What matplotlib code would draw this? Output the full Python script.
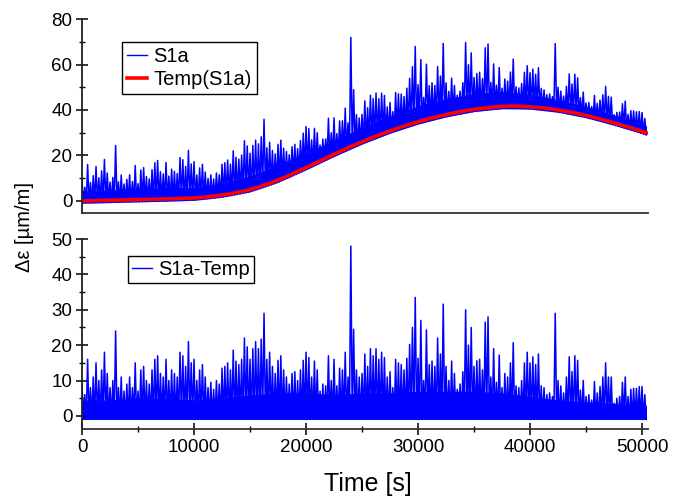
import numpy as np
import matplotlib
matplotlib.use("Agg")
import matplotlib.pyplot as plt

plt.rcParams['font.family'] = ['Liberation Sans', 'DejaVu Sans']

# Temperature compensation curve Temp(S1a)
temp_t = [0, 2500, 5000, 7500, 10000, 11000, 12000, 13000, 14000, 15000,
          16000, 17000, 18000, 19000, 20000, 21000, 22000, 23000, 24000, 25000,
          26000, 27000, 28000, 29000, 30000, 31000, 32000, 33000, 34000, 35000,
          36000, 37000, 38000, 39000, 40000, 41000, 42000, 43000, 44000, 45000,
          46000, 47000, 48000, 49000, 50000, 50400]
temp_v = [0, 0.3, 0.6, 0.9, 1.3, 1.7, 2.3, 3.0, 3.9, 5.0,
          6.5, 8.2, 10.2, 12.4, 14.7, 17.0, 19.4, 21.7, 23.9, 26.0,
          28.0, 29.9, 31.7, 33.3, 34.8, 36.2, 37.4, 38.5, 39.5, 40.3,
          40.9, 41.4, 41.7, 41.7, 41.4, 41.0, 40.4, 39.6, 38.7, 37.6,
          36.4, 35.0, 33.6, 32.2, 30.6, 30.0]

# S1a-Temp: highest spike in each 250 s bin (bottom panel)
bin_width = 250
resid_peak = [
    9, 6, 16, 8, 11, 15, 10, 13, 18, 12,
    8, 10, 24, 8, 11, 7, 9, 11, 8, 15,
    7, 13, 14, 10, 9, 13, 16, 17, 12, 11,
    16, 10, 13, 12, 11, 18, 17, 14, 21, 15,
    16, 10, 13, 14.5, 11, 8, 9.5, 7.5, 10, 9,
    13.5, 14, 15, 13, 18.6, 15.5, 14.5, 16, 22, 19.5,
    16, 19, 21, 19, 21.7, 29, 16, 18, 14, 12,
    15.7, 17, 13, 11, 9, 12, 12.5, 10, 13, 15.7,
    18, 16.5, 11, 15.5, 13, 7, 9, 8.5, 17, 10,
    16, 8.5, 13.5, 13, 18, 11, 48, 24.5, 13, 11,
    12, 17.5, 14, 19, 17, 19, 16, 18, 16.5, 11,
    12.5, 8, 16, 15, 14.5, 13, 16.3, 20.2, 25, 33.5,
    16.3, 27, 10, 24.3, 14.5, 15.5, 14, 22, 17.5, 31.6,
    14, 10, 15.5, 12, 7.5, 9, 12.5, 30, 20, 25,
    14, 15.6, 16, 13, 26.5, 28, 11, 19, 9.5, 17.2,
    8, 12, 11, 15, 20.7, 8.5, 8, 10, 15, 18,
    15, 16.7, 14.5, 17.5, 8.5, 8, 6, 6.5, 5.5, 29,
    10, 8.5, 6.5, 11, 16.7, 12.5, 17, 15.7, 7.3, 10,
    5.5, 6, 4.5, 9.7, 6.5, 8.3, 11, 15, 11, 11,
    3.6, 5, 5.5, 9.5, 11, 5.5, 7.5, 7.8, 7.8, 8.3,
    8.3, 6]
resid_floor = -1.0

# top of the solid part of the noise band, every 2500 s
core_t = [0, 2500, 5000, 7500, 10000, 12500, 15000, 17500, 20000, 22500,
          25000, 27500, 30000, 32500, 35000, 37500, 40000, 42500, 45000, 47500, 50400]
core_v = [4.5, 4.5, 5, 5, 4.5, 5, 6, 6.5, 6.5, 6,
          6.5, 6.5, 7, 7, 7, 6.5, 5.5, 4.5, 4, 3.5, 3]

x_ticks = [0, 10000, 20000, 30000, 40000, 50000]

# zigzag signal: spike, back to floor, next spike ...
n = len(resid_peak)
t_bins = np.arange(n) * bin_width
sig_t = np.empty(2 * n)
sig_r = np.empty(2 * n)
sig_t[0::2] = t_bins
sig_t[1::2] = t_bins + bin_width / 2
sig_r[0::2] = resid_peak
sig_r[1::2] = resid_floor
temp_sig = np.interp(sig_t, temp_t, temp_v)
temp_core = np.interp(core_t, temp_t, temp_v)

fig = plt.figure(figsize=(6.87, 4.97), dpi=100)
ax1 = fig.add_axes([0.1194, 0.5714, 0.8233, 0.3903])
ax2 = fig.add_axes([0.1194, 0.1368, 0.8233, 0.3823])

blue = '#0000ff'
spike_lw = 1.1

# top panel
ax1.fill_between(core_t, temp_core + resid_floor, temp_core + np.array(core_v),
                 color=blue, lw=0)
ax1.plot(sig_t, temp_sig + sig_r, color=blue, lw=spike_lw, label='S1a')
ax1.plot(temp_t, temp_v, color='red', lw=2.6, label='Temp(S1a)')

# bottom panel
ax2.fill_between(core_t, resid_floor, core_v, color=blue, lw=0)
ax2.plot(sig_t, sig_r, color=blue, lw=spike_lw, label='S1a-Temp')

for ax in (ax1, ax2):
    ax.set_xlim(0, 50500)
    for s in ('top', 'right'):
        ax.spines[s].set_visible(False)
    ax.spines['left'].set_linewidth(1.3)
    ax.spines['bottom'].set_linewidth(1.3)
    ax.spines['left'].set_color('#222222')
    ax.spines['bottom'].set_color('#333333')
    ax.tick_params(axis='y', which='major', direction='inout', length=8,
                   width=1.1, labelsize=13.5, pad=3)
    ax.tick_params(axis='y', which='minor', direction='inout', length=5, width=1.0)

ax1.set_ylim(-5.3, 80)
ax1.set_yticks([0, 20, 40, 60, 80])
ax1.set_yticks([10, 30, 50, 70], minor=True)
ax1.set_xticks([])

ax2.set_ylim(-3.7, 50)
ax2.set_yticks([0, 10, 20, 30, 40, 50])
ax2.set_yticks([5, 15, 25, 35, 45], minor=True)
ax2.set_xticks(x_ticks)
ax2.set_xticks([5000, 15000, 25000, 35000, 45000], minor=True)
ax2.set_xticklabels([str(v) for v in x_ticks])
ax2.tick_params(axis='x', which='major', direction='inout', length=8,
                width=1.1, labelsize=13.5, pad=3)
ax2.tick_params(axis='x', which='minor', direction='inout', length=5, width=1.0)

leg1 = ax1.legend(loc='upper left', bbox_to_anchor=(0.0707, 0.8814), borderaxespad=0,
                  fontsize=14.5, fancybox=False, edgecolor='black', framealpha=1,
                  handlelength=1.0, handletextpad=0.3, borderpad=0.25, labelspacing=0.2)
leg1.get_frame().set_linewidth(1.0)
leg2 = ax2.legend(loc='upper left', bbox_to_anchor=(0.0813, 0.912), borderaxespad=0,
                  fontsize=14.5, fancybox=False, edgecolor='black', framealpha=1,
                  handlelength=1.0, handletextpad=0.3, borderpad=0.2)
leg2.get_frame().set_linewidth(1.0)
for leg in (leg1, leg2):
    leg.get_lines()[0].set_linewidth(1.0)

fig.text(0.036, 0.543, 'Δε [µm/m]', rotation=90, ha='center', va='center', fontsize=14.5)
fig.text(0.536, 0.026, 'Time [s]', ha='center', va='center', fontsize=18)

fig.savefig('out.png', dpi=100)
